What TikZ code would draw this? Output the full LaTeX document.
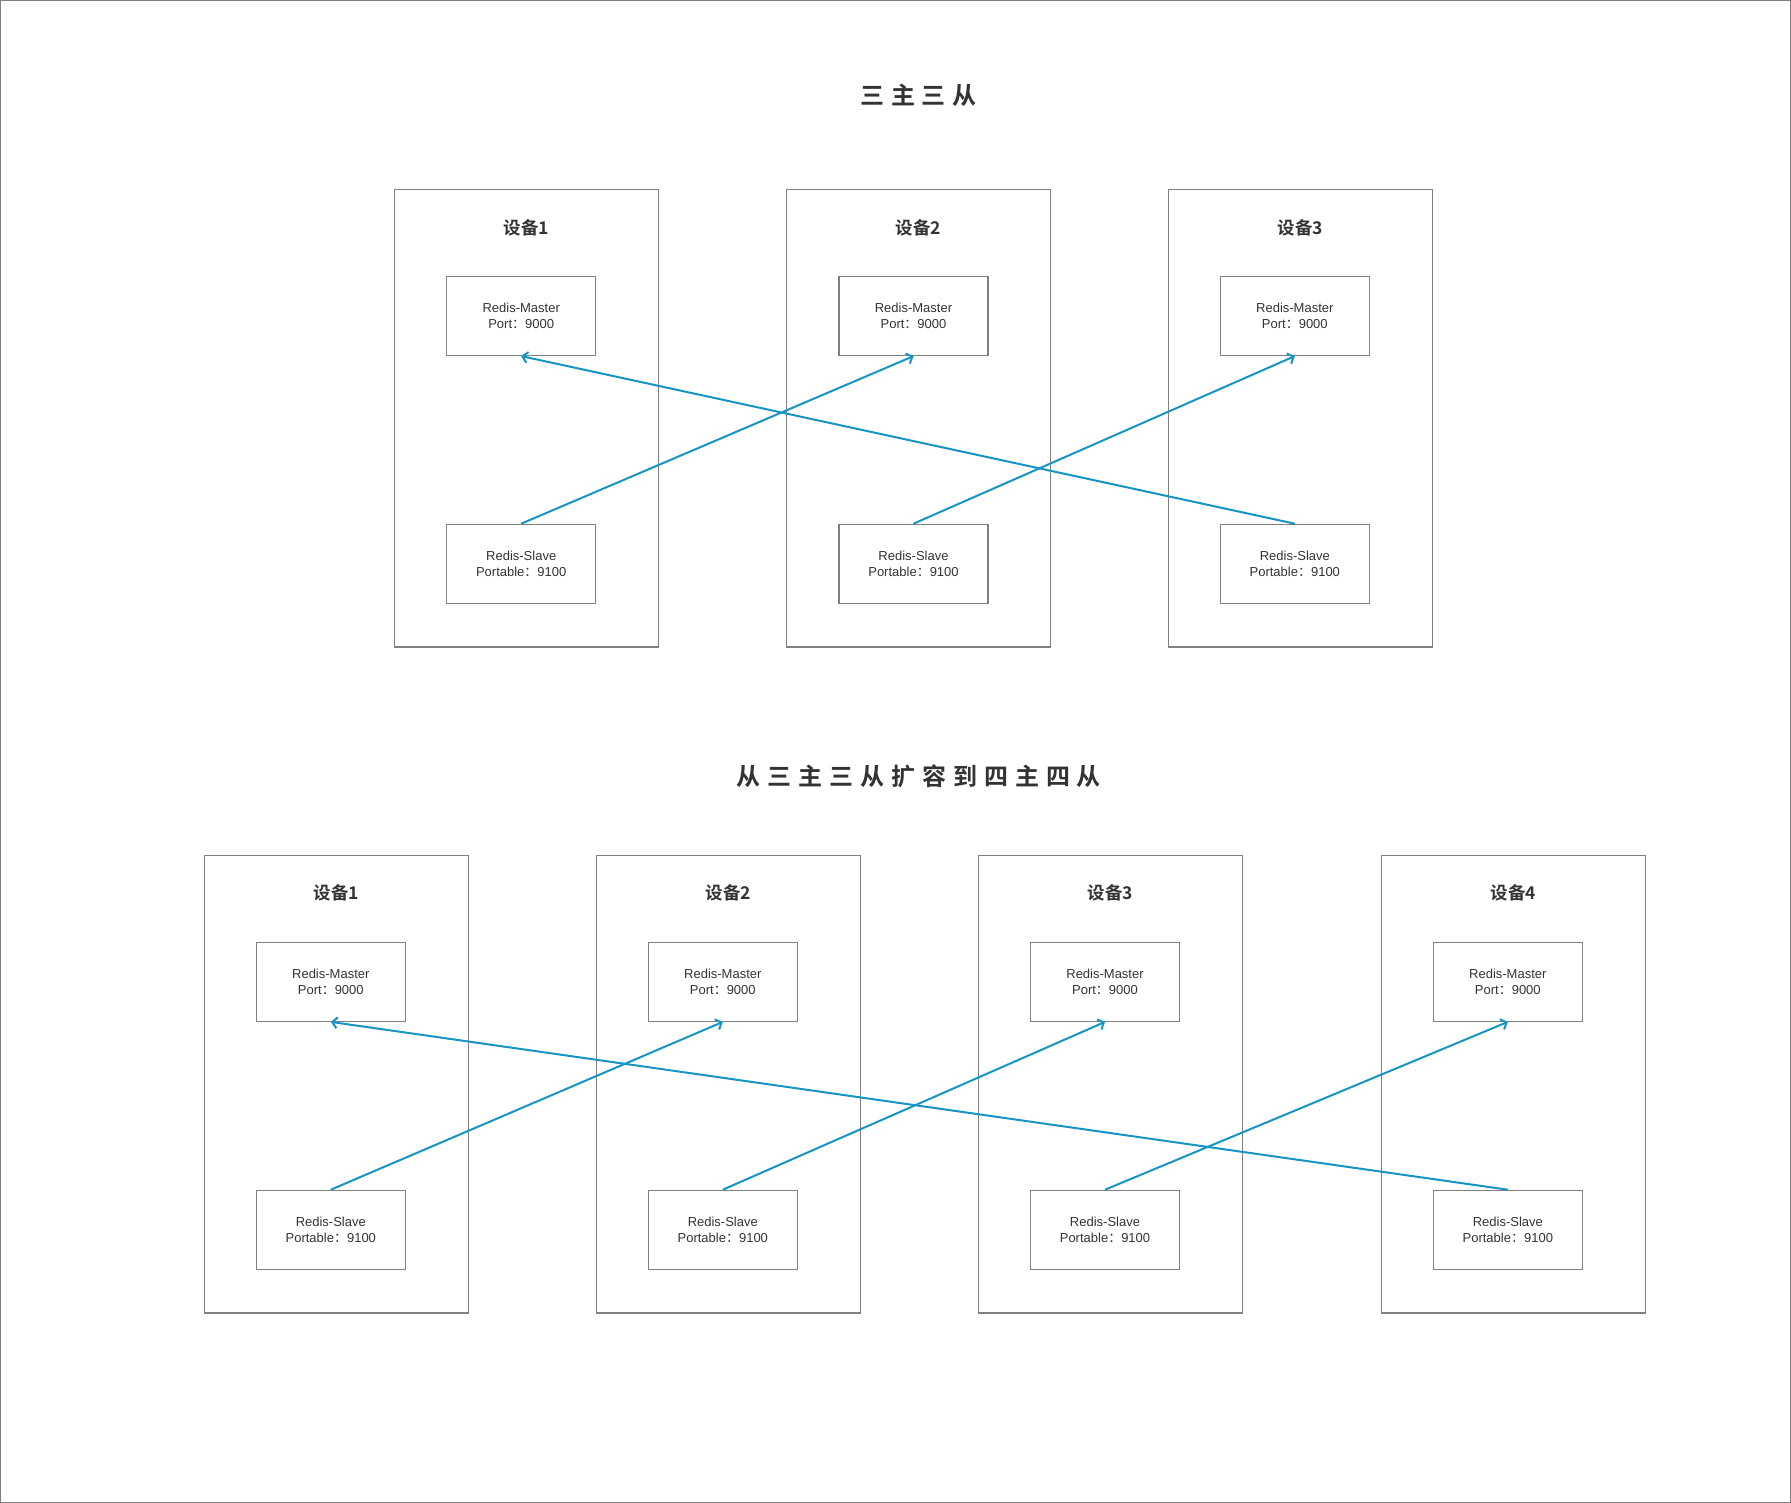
\documentclass[tikz,border=0pt]{standalone}
\usepackage{fontspec}
\usetikzlibrary{arrows.meta}
\setmainfont{Liberation Sans}
\newfontfamily\cjk{Noto Sans CJK SC}[BoldFont={Noto Sans CJK SC Bold}]
\newfontfamily\cjktitle{Noto Sans CJK SC Bold}[LetterSpace=29]
\definecolor{linecol}{RGB}{22,148,196}
\definecolor{boxcol}{RGB}{128,128,128}
\definecolor{txtcol}{RGB}{51,51,51}
\tikzset{every picture/.style={x=1pt,y=-1pt}}
\tikzset{device/.style={draw=boxcol,line width=1.2pt,minimum width=264.4pt,minimum height=457.7pt,inner sep=0pt}}
\tikzset{redis/.style={draw=boxcol,line width=1.2pt,minimum width=149pt,minimum height=79pt,inner sep=0pt,align=center,text=txtcol,font=\fontsize{13}{16}\selectfont}}
\tikzset{devname/.style={text=txtcol,font=\fontsize{17.5}{20}\selectfont\cjk\bfseries}}
\tikzset{heading/.style={text=txtcol,font=\fontsize{24}{28}\selectfont\cjktitle}}
\tikzset{edge/.style={linecol,line width=2pt,-{Straight Barb[length=5pt,width=11pt]}}}
\newcommand{\mastertext}{Redis-Master\\Port{\cjk ：}9000}
\newcommand{\slavetext}{Redis-Slave\\Portable{\cjk ：}9100}

\begin{document}
\begin{tikzpicture}
\useasboundingbox (0,0) rectangle (1791,1503);
\draw [boxcol,line width=1.2pt] (0.6,0.6) rectangle (1790.4,1502.4);
\node [heading] (ta) at (918.5,95) {三主三从};
\node [device] (da1) at (526.5,418.2) {};
\node [device] (da2) at (918.5,418.2) {};
\node [device] (da3) at (1300.5,418.2) {};
\node [devname] (na1) at (526.5,227.7) {设备1};
\node [devname] (na2) at (918.5,227.7) {设备2};
\node [devname] (na3) at (1300.5,227.7) {设备3};
\node [redis] (ma1) at (521.2,316) {\mastertext};
\node [redis] (ma2) at (913.5,316) {\mastertext};
\node [redis] (ma3) at (1294.8,316) {\mastertext};
\node [redis] (sa1) at (521.2,563.8) {\slavetext};
\node [redis] (sa2) at (913.5,563.8) {\slavetext};
\node [redis] (sa3) at (1294.8,563.8) {\slavetext};
\draw [edge] (sa1.north) -- (ma2.south);
\draw [edge] (sa2.north) -- (ma3.south);
\draw [edge] (sa3.north) -- (ma1.south);
\node [heading] (tb) at (918.7,776.7) {从三主三从扩容到四主四从};
\node [device] (db1) at (336.5,1084.2) {};
\node [device] (db2) at (728.5,1084.2) {};
\node [device] (db3) at (1110.5,1084.2) {};
\node [device] (db4) at (1513.5,1084.2) {};
\node [devname] (nb1) at (336.5,893.3) {设备1};
\node [devname] (nb2) at (728.5,893.3) {设备2};
\node [devname] (nb3) at (1110.5,893.3) {设备3};
\node [devname] (nb4) at (1513.5,893.3) {设备4};
\node [redis] (mb1) at (330.8,981.8) {\mastertext};
\node [redis] (mb2) at (722.8,981.8) {\mastertext};
\node [redis] (mb3) at (1105,981.8) {\mastertext};
\node [redis] (mb4) at (1507.8,981.8) {\mastertext};
\node [redis] (sb1) at (330.8,1229.8) {\slavetext};
\node [redis] (sb2) at (722.8,1229.8) {\slavetext};
\node [redis] (sb3) at (1105,1229.8) {\slavetext};
\node [redis] (sb4) at (1507.8,1229.8) {\slavetext};
\draw [edge] (sb1.north) -- (mb2.south);
\draw [edge] (sb2.north) -- (mb3.south);
\draw [edge] (sb3.north) -- (mb4.south);
\draw [edge] (sb4.north) -- (mb1.south);
\end{tikzpicture}
\end{document}
